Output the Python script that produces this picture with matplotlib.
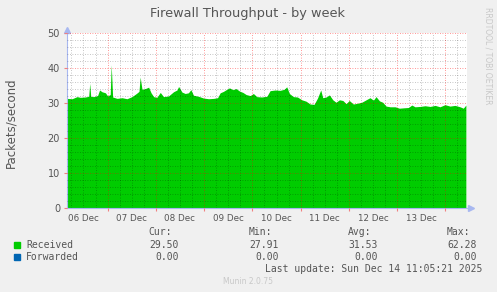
import numpy as np
import matplotlib.pyplot as plt
from matplotlib.ticker import MultipleLocator, FuncFormatter

# hours since 06 Dec 00:00 and packets/second (received)
hours = [3.8, 6.3, 8.8, 10.4, 12.9, 14.6, 15.1, 15.6, 17.0, 19.0, 20.0, 21.2,
         22.9, 24.0, 25.3, 25.8, 26.5, 28.7, 31.2, 33.6, 36.1, 38.3, 39.6, 40.2,
         41.1, 42.7, 44.4, 45.6, 46.9, 48.5, 50.2, 51.8, 54.3, 56.8, 58.5, 59.3,
         61.0, 62.6, 64.2, 65.4, 66.7, 69.2, 71.7, 74.2, 76.7, 78.7, 80.0, 81.6,
         83.3, 84.6, 86.3, 87.9, 89.6, 91.3, 92.9, 94.9, 96.5, 98.2, 100.7, 103.2,
         104.8, 107.3, 109.8, 111.8, 113.1, 114.4, 116.4, 118.4, 120.6, 122.7,
         124.7, 126.7, 128.4, 130.0, 131.0, 132.7, 134.3, 136.0, 137.6, 139.3,
         141.0, 142.6, 144.2, 146.2, 148.2, 150.4, 152.9, 154.5, 156.2, 157.5,
         159.2, 160.8, 162.5, 164.5, 167.0, 169.1, 171.1, 173.6, 175.3, 176.9,
         179.4, 181.9, 184.4, 186.9, 189.3, 191.8, 194.3, 196.8, 199.3, 200.9,
         202.2]
received = [31.4, 31.3, 31.9, 31.7, 31.8, 32.0, 35.7, 32.0, 31.9, 32.2, 33.8, 33.3,
            33.0, 32.1, 32.5, 41.0, 31.8, 31.4, 31.6, 31.3, 31.9, 32.8, 33.4, 37.5,
            34.0, 34.2, 34.6, 33.0, 31.9, 31.7, 33.1, 31.9, 32.1, 33.3, 33.8, 34.8,
            33.2, 32.8, 33.0, 33.9, 32.3, 32.0, 31.5, 31.3, 31.4, 31.6, 33.0, 33.4,
            34.0, 34.4, 33.9, 34.2, 33.5, 33.1, 32.5, 32.2, 32.8, 31.9, 31.8, 32.0,
            33.6, 33.8, 33.7, 34.0, 34.7, 32.8, 31.9, 31.8, 31.0, 30.6,
            29.8, 29.7, 31.5, 33.8, 31.6, 31.8, 32.4, 31.0, 30.3, 31.0,
            30.8, 29.9, 30.8, 29.8, 30.0, 30.3, 31.1, 31.6, 30.9, 31.9,
            30.7, 30.3, 29.2, 29.0, 29.0, 28.6, 28.7, 28.8, 29.5, 29.0,
            29.1, 29.3, 29.1, 29.4, 29.0, 29.6, 29.2, 29.4, 29.0, 28.6,
            29.5]
forwarded = [0.0] * len(hours)

day_labels = ["06 Dec", "07 Dec", "08 Dec", "09 Dec", "10 Dec", "11 Dec", "12 Dec", "13 Dec"]
stats_received = ["29.50", "27.91", "31.53", "62.28"]
stats_forwarded = ["0.00", "0.00", "0.00", "0.00"]

GREEN = "#00CC00"
BLUE = "#0066B3"
TXT = "#555555"

W, H = 497, 292
fig = plt.figure(figsize=(W / 100, H / 100), dpi=100, facecolor="#F0F0F0")
ax = fig.add_axes([67 / W, 1 - 208.3 / H, (466.7 - 67) / W, (208.3 - 33.3) / H])
ax.set_facecolor("white")

ax.fill_between(hours, received, 0, color=GREEN, lw=0)
ax.plot(hours, forwarded, color=BLUE, lw=0.8)

ax.set_xlim(3.8, 202.6)
ax.set_ylim(0, 50)

ax.xaxis.set_major_locator(MultipleLocator(24))
ax.xaxis.set_minor_locator(MultipleLocator(6))
ax.xaxis.set_major_formatter(FuncFormatter(lambda v, p: ""))


def day_fmt(v, p):
    h = int(round(v))
    if h % 24 == 12 and 0 <= h // 24 < len(day_labels):
        return day_labels[h // 24]
    return ""


ax.xaxis.set_minor_formatter(FuncFormatter(day_fmt))
ax.yaxis.set_major_locator(MultipleLocator(10))
ax.yaxis.set_minor_locator(MultipleLocator(2))

# munin draws the grid on top of the area, semi transparent
ax.set_axisbelow(False)
ax.grid(which="minor", color="black", alpha=0.3, ls=(0, (1, 2)), lw=0.6)
ax.grid(which="major", color="red", alpha=0.55, ls=(0, (1, 2)), lw=0.6)

ax.tick_params(which="major", length=2, color="#F08080", labelsize=6, labelcolor=TXT, pad=2)
ax.tick_params(which="minor", length=0, labelsize=6.3, labelcolor=TXT, pad=4)
ax.tick_params(axis="y", which="major", labelsize=7, pad=3)

for s in ["top", "right"]:
    ax.spines[s].set_visible(False)
for s in ["left", "bottom"]:
    ax.spines[s].set_color("#A8B8F0")
    ax.spines[s].set_linewidth(0.8)
ax.plot(0, 1.02, marker="^", ms=4, color="#A8B8F0", transform=ax.transAxes, clip_on=False)
ax.plot(1.01, 0, marker=">", ms=4, color="#A8B8F0", transform=ax.transAxes, clip_on=False)

fig.text(248 / W, 1 - 13 / H, "Firewall Throughput - by week", ha="center", va="center",
         fontsize=9.3, color=TXT)
fig.text(11 / W, 1 - 123 / H, "Packets/second", rotation=90, ha="center", va="center",
         fontsize=8.5, color=TXT)
fig.text(488 / W, 1 - 56 / H, "RRDTOOL / TOBI OETIKER", rotation=270, ha="center", va="center",
         fontsize=5.5, color="#C8C8C8")

mono = dict(family="DejaVu Sans Mono", fontsize=7, color=TXT, va="center")
heads = ["Cur:", "Min:", "Avg:", "Max:"]
head_x = [172.3, 272.3, 371, 470]
val_x = [179, 279, 377.7, 476.7]
for hx, hd in zip(head_x, heads):
    fig.text(hx / W, 1 - 232 / H, hd, ha="right", **mono)
for vx, r, f in zip(val_x, stats_received, stats_forwarded):
    fig.text(vx / W, 1 - 244.5 / H, r, ha="right", **mono)
    fig.text(vx / W, 1 - 257 / H, f, ha="right", **mono)

fig.text(26 / W, 1 - 244.5 / H, "Received", ha="left", **mono)
fig.text(26 / W, 1 - 257 / H, "Forwarded", ha="left", **mono)
fig.patches.append(plt.Rectangle((14 / W, 1 - 247.5 / H), 6 / W, 6 / H, color=GREEN,
                                 transform=fig.transFigure, figure=fig))
fig.patches.append(plt.Rectangle((14 / W, 1 - 260 / H), 6 / W, 6 / H, color=BLUE,
                                 transform=fig.transFigure, figure=fig))
fig.text(482.3 / W, 1 - 268.5 / H, "Last update: Sun Dec 14 11:05:21 2025", ha="right", **mono)
fig.text(248 / W, 1 - 281 / H, "Munin 2.0.75", ha="center", va="center", fontsize=5.5,
         color="#C8C8C8")

fig.savefig("out.png", dpi=100, facecolor=fig.get_facecolor())
